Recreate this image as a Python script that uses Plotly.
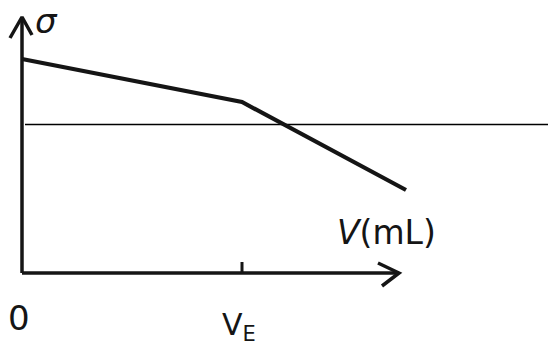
import plotly.graph_objects as go

# Data (arbitrary units)
V_points = [0, 220, 384]          # volume
sigma_points = [214, 171, 83]     # conductivity
VE = 220                          # equivalence volume
baseline_sigma = 148.5            # horizontal reference line
baseline_V = [3, 540]
x_axis_end = 377
y_axis_end = 256

INK = "#151515"
fig = go.Figure()

# axes
fig.add_trace(go.Scatter(x=[0, x_axis_end], y=[0, 0], mode="lines",
                         line=dict(color=INK, width=3.5), hoverinfo="skip"))
fig.add_trace(go.Scatter(x=[0, 0], y=[0, y_axis_end], mode="lines",
                         line=dict(color=INK, width=3.5), hoverinfo="skip"))
# arrowheads
fig.add_trace(go.Scatter(x=[x_axis_end - 21, x_axis_end, x_axis_end - 17],
                         y=[10, 0, -13], mode="lines",
                         line=dict(color=INK, width=3.5), hoverinfo="skip"))
fig.add_trace(go.Scatter(x=[-12, 0, 10],
                         y=[y_axis_end - 21, y_axis_end, y_axis_end - 18], mode="lines",
                         line=dict(color=INK, width=3.5), hoverinfo="skip"))
# VE tick
fig.add_trace(go.Scatter(x=[VE, VE], y=[0, 11], mode="lines",
                         line=dict(color=INK, width=3), hoverinfo="skip"))
# baseline
fig.add_trace(go.Scatter(x=baseline_V, y=[baseline_sigma, baseline_sigma], mode="lines",
                         line=dict(color="#000000", width=1.6), hoverinfo="skip"))
# curve
fig.add_trace(go.Scatter(x=V_points, y=sigma_points, mode="lines",
                         line=dict(color=INK, width=4.2), hoverinfo="skip"))

FONT = "DejaVu Sans, Arial, sans-serif"
fig.add_annotation(x=24, y=252, text="<i>σ</i>", showarrow=False,
                   font=dict(family=FONT, size=34, color=INK))
fig.add_annotation(x=-3, y=-45, text="0", showarrow=False,
                   font=dict(family=FONT, size=34, color=INK))
fig.add_annotation(x=VE - 3, y=-53, text="V<sub>E</sub>", showarrow=False,
                   font=dict(family=FONT, size=30, color=INK))
fig.add_annotation(x=364, y=41, text="<i>V</i>(mL)", showarrow=False,
                   font=dict(family=FONT, size=33, color=INK))

# the page body adds an 8px offset; ranges compensate so the marks land in place
fig.update_layout(
    width=556, height=342, autosize=False,
    margin=dict(l=0, r=0, t=0, b=0),
    paper_bgcolor="white", plot_bgcolor="white",
    showlegend=False,
    xaxis=dict(range=[-14, 542], visible=False, fixedrange=True),
    yaxis=dict(range=[-77, 265], visible=False, fixedrange=True),
)

fig.write_html("out.html")
